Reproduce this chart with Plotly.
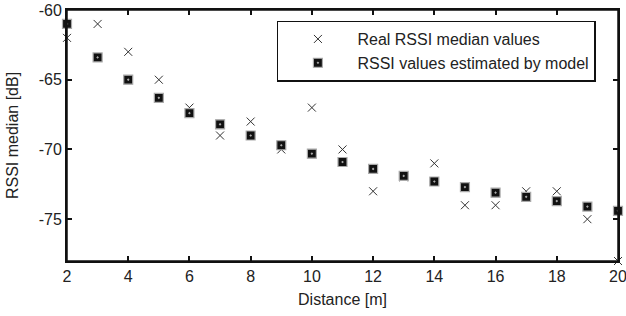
import plotly.graph_objects as go

distance = list(range(2, 21))
real_rssi = [-62, -61, -63, -65, -67, -69, -68, -70, -67, -70, -73, -72, -71, -74, -74, -73, -73, -75, -78]
model_rssi = [-61, -63.4, -65, -66.3, -67.4, -68.2, -69, -69.7, -70.3, -70.9, -71.4, -71.9, -72.3,
              -72.7, -73.1, -73.4, -73.7, -74.1, -74.4]
x_ticks = list(range(2, 21, 2))
y_ticks = [-75, -70, -65, -60]
y_tick_labels = ["-75", "-70", "-65", "-60"]

FONT = "Arial, Liberation Sans, sans-serif"

fig = go.Figure()
fig.add_trace(go.Scatter(
    x=distance, y=real_rssi, mode="markers", name="Real RSSI median values",
    marker=dict(symbol="x-thin", size=8, line=dict(color="#333333", width=1), color="#333333"),
    cliponaxis=False,
))
fig.add_trace(go.Scatter(
    x=distance, y=model_rssi, mode="markers", name="RSSI values estimated by model",
    marker=dict(symbol="square-dot", size=9, color="#111111", line=dict(color="#aaaaaa", width=1.2)),
    cliponaxis=False,
))

axis_common = dict(
    showline=True, linecolor="#111111", linewidth=2, mirror="ticks",
    ticks="inside", ticklen=5, tickcolor="#111111", tickwidth=1.5,
    showgrid=False, zeroline=False, automargin=False, ticklabeloverflow="allow",
    tickfont=dict(family=FONT, size=16, color="#222222"),
)

fig.update_layout(
    width=626, height=316,
    margin=dict(l=67, r=8, t=10, b=55),
    paper_bgcolor="white", plot_bgcolor="white",
    font=dict(family=FONT, size=16, color="#222222"),
    xaxis=dict(range=[2, 20], tickvals=x_ticks, title=dict(text="Distance [m]", standoff=10,
               font=dict(size=16)), **axis_common),
    yaxis=dict(range=[-78, -60], tickvals=y_ticks, ticktext=y_tick_labels,
               title=dict(text="RSSI median [dB]", standoff=16, font=dict(size=16)), **axis_common),
    legend=dict(x=0.381, y=0.958, xanchor="left", yanchor="top",
                bordercolor="#111111", borderwidth=1.5, bgcolor="white",
                font=dict(size=16), itemwidth=69, tracegroupgap=0,
                entrywidth=262, entrywidthmode="pixels"),
    shapes=[dict(type="rect", xref="paper", yref="paper", x0=0, x1=1, y0=0, y1=1,
                 line=dict(color="#111111", width=1.5), layer="above")],
    showlegend=True,
)

fig.write_html("out.html", config={"displayModeBar": False},
               post_script="document.body.style.margin='0';document.body.style.overflow='hidden';")
